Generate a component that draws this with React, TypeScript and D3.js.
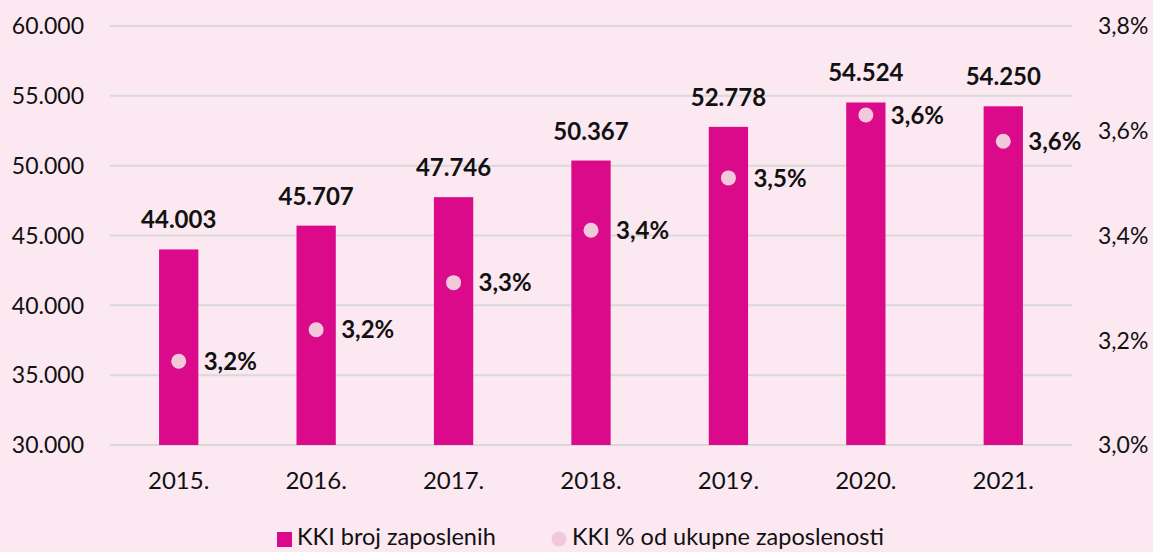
import React, { useEffect, useRef } from 'react'
import * as d3 from 'd3'

const years = ['2015.', '2016.', '2017.', '2018.', '2019.', '2020.', '2021.']
const employed = [44003, 45707, 47746, 50367, 52778, 54524, 54250]
const employedLabels = ['44.003', '45.707', '47.746', '50.367', '52.778', '54.524', '54.250']
const sharePct = [3.16, 3.22, 3.31, 3.41, 3.51, 3.63, 3.58]
const shareLabels = ['3,2%', '3,2%', '3,3%', '3,4%', '3,5%', '3,6%', '3,6%']
const leftTicks = [30000, 35000, 40000, 45000, 50000, 55000, 60000]
const rightTicks = [3.0, 3.2, 3.4, 3.6, 3.8]

const W = 1153
const H = 552
const BG = '#fce8f1'
const BAR = '#da0a8a'
const DOT = '#f2c9da'
const FONT = 'Lato, "Open Sans", sans-serif'

export default function App() {
  const ref = useRef<SVGSVGElement>(null)

  useEffect(() => {
    document.body.style.margin = '0'
    document.body.style.background = BG
    drawChart()
  }, [])

  const drawChart = () => {
    const margin = { top: 26, right: 81, bottom: 107, left: 110 }
    const width = W - margin.left - margin.right
    const height = H - margin.top - margin.bottom

    const svg = d3.select(ref.current)
    svg.selectAll('*').remove()

    svg.append('rect').attr('width', W).attr('height', H).attr('fill', BG)

    const g = svg.append('g').attr('transform', `translate(${margin.left},${margin.top})`)

    const x = d3.scaleBand<string>()
      .domain(years)
      .range([0, width])
      .paddingInner(0.714)
      .paddingOuter(0.357)

    const y = d3.scaleLinear().domain([30000, 60000]).range([height, 0])
    const y2 = d3.scaleLinear().domain([3.0, 3.8]).range([height, 0])

    const fmt = (v: number) => d3.format(',')(v).replace(/,/g, '.')

    // gridlines
    g.selectAll('line.grid')
      .data(leftTicks).enter()
      .append('line')
      .attr('class', 'grid')
      .attr('x1', 0).attr('x2', width)
      .attr('y1', d => y(d)).attr('y2', d => y(d))
      .attr('stroke', '#d9d9d9')
      .attr('stroke-width', 2)

    // left axis labels
    g.selectAll('text.ly')
      .data(leftTicks).enter()
      .append('text')
      .attr('class', 'ly')
      .attr('x', -26)
      .attr('y', d => y(d))
      .attr('dy', '0.36em')
      .attr('text-anchor', 'end')
      .attr('font-family', FONT)
      .attr('font-size', 23)
      .attr('fill', '#111')
      .text(d => fmt(d))

    // right axis labels
    g.selectAll('text.ry')
      .data(rightTicks).enter()
      .append('text')
      .attr('class', 'ry')
      .attr('x', width + 26)
      .attr('y', d => y2(d))
      .attr('dy', '0.36em')
      .attr('font-family', FONT)
      .attr('font-size', 23)
      .attr('fill', '#111')
      .text(d => d.toFixed(1).replace('.', ',') + '%')

    // x labels
    g.selectAll('text.xl')
      .data(years).enter()
      .append('text')
      .attr('class', 'xl')
      .attr('x', d => (x(d) as number) + x.bandwidth() / 2)
      .attr('y', height + 44)
      .attr('text-anchor', 'middle')
      .attr('font-family', FONT)
      .attr('font-size', 24)
      .attr('fill', '#111')
      .text(d => d)

    // bars
    g.selectAll('rect.bar')
      .data(employed).enter()
      .append('rect')
      .attr('class', 'bar')
      .attr('x', (d, i) => x(years[i]) as number)
      .attr('y', d => y(d))
      .attr('width', x.bandwidth())
      .attr('height', d => height - y(d))
      .attr('fill', BAR)

    // bar value labels
    g.selectAll('text.bv')
      .data(employed).enter()
      .append('text')
      .attr('class', 'bv')
      .attr('x', (d, i) => (x(years[i]) as number) + x.bandwidth() / 2)
      .attr('y', d => y(d) - 21)
      .attr('text-anchor', 'middle')
      .attr('font-family', FONT)
      .attr('font-weight', 'bold')
      .attr('font-size', 24)
      .attr('fill', '#111')
      .text((d, i) => employedLabels[i])

    // share dots
    g.selectAll('circle.dot')
      .data(sharePct).enter()
      .append('circle')
      .attr('class', 'dot')
      .attr('cx', (d, i) => (x(years[i]) as number) + x.bandwidth() / 2)
      .attr('cy', d => y2(d))
      .attr('r', 7.5)
      .attr('fill', DOT)

    g.selectAll('text.pv')
      .data(sharePct).enter()
      .append('text')
      .attr('class', 'pv')
      .attr('x', (d, i) => (x(years[i]) as number) + x.bandwidth() / 2 + 25)
      .attr('y', d => y2(d))
      .attr('dy', '0.36em')
      .attr('font-family', FONT)
      .attr('font-weight', 'bold')
      .attr('font-size', 24)
      .attr('fill', '#111')
      .text((d, i) => shareLabels[i])

    // legend
    const leg = svg.append('g').attr('transform', 'translate(0,537)')
    leg.append('rect')
      .attr('x', 277).attr('y', -5)
      .attr('width', 15).attr('height', 15)
      .attr('fill', BAR)
    leg.append('text')
      .attr('x', 297).attr('y', 0).attr('dy', '0.36em')
      .attr('font-family', FONT).attr('font-size', 23.5).attr('fill', '#111')
      .text('KKI broj zaposlenih')
    leg.append('circle')
      .attr('cx', 559).attr('cy', 2).attr('r', 7.5)
      .attr('fill', DOT)
    leg.append('text')
      .attr('x', 572).attr('y', 0).attr('dy', '0.36em')
      .attr('font-family', FONT).attr('font-size', 23.5).attr('fill', '#111')
      .text('KKI % od ukupne zaposlenosti')
  }

  return <svg ref={ref} width={W} height={H} style={{ display: 'block' }}></svg>
}
